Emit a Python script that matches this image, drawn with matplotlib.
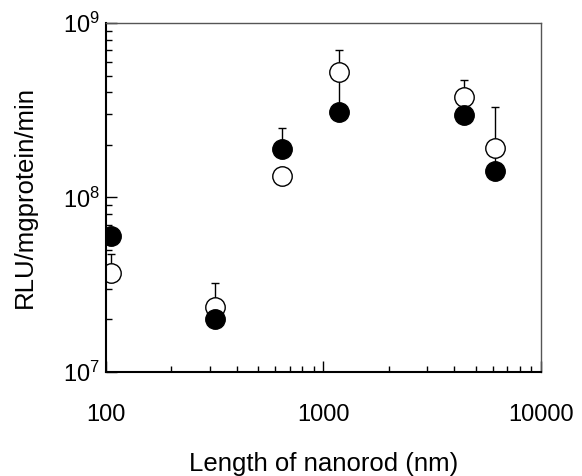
import numpy as np
import matplotlib
matplotlib.use("Agg")
import matplotlib.pyplot as plt
from matplotlib.ticker import LogLocator, NullFormatter

plt.rcParams['font.family'] = ['Liberation Sans', 'DejaVu Sans']
plt.rcParams['mathtext.fontset'] = 'custom'
plt.rcParams['mathtext.rm'] = 'Liberation Sans'
plt.rcParams['mathtext.it'] = 'Liberation Sans'

# rod length (nm)
length_nm = [105, 317, 643, 1178, 4425, 6150]
# filled circles
filled_val = [6.04e7, 2.02e7, 1.90e8, 3.08e8, 2.96e8, 1.42e8]
filled_err = [0, 0, 0.60e8, 2.0e8, 0, 0.45e8]
# open circles
open_val = [3.68e7, 2.37e7, 1.33e8, 5.26e8, 3.75e8, 1.92e8]
open_err = [1.05e7, 0.85e7, 0, 1.77e8, 0.94e8, 1.38e8]

fig = plt.figure(figsize=(5.82, 4.76), dpi=100)
ax = fig.add_axes([0.182, 0.2185, 0.7476, 0.7332])

x = np.array(length_nm)
zeros = np.zeros(len(x))
ax.errorbar(x, open_val, yerr=[zeros, open_err], fmt='none', ecolor='black',
            elinewidth=1, capsize=3, capthick=1, zorder=1)
ax.errorbar(x, filled_val, yerr=[zeros, filled_err], fmt='none', ecolor='black',
            elinewidth=1, capsize=3, capthick=1, zorder=1)
ax.plot(x, open_val, 'o', ms=14, mfc='white', mec='black', mew=1, zorder=2)
ax.plot(x, filled_val, 'o', ms=14, mfc='black', mec='black', mew=1, zorder=3)

ax.set_xscale('log')
ax.set_yscale('log')
ax.set_xlim(100, 10000)
ax.set_ylim(1e7, 1e9)

ax.xaxis.set_minor_locator(LogLocator(base=10, subs=np.arange(2, 10)))
ax.xaxis.set_minor_formatter(NullFormatter())
ax.set_xticks([100, 1000, 10000])
ax.set_xticklabels(['100', '1000', '10000'])
ax.yaxis.set_minor_locator(LogLocator(base=10, subs=np.arange(2, 10)))
ax.yaxis.set_minor_formatter(NullFormatter())
ax.set_yticks([1e7, 1e8, 1e9])
ax.set_yticklabels([r'$\mathregular{10^7}$', r'$\mathregular{10^8}$', r'$\mathregular{10^9}$'])

ax.tick_params(which='major', direction='in', length=8, width=1,
               top=False, right=False)
ax.tick_params(which='minor', direction='in', length=4, width=1, top=False, right=False)
ax.tick_params(axis='x', which='major', pad=23, labelsize=17)
ax.tick_params(axis='y', which='major', pad=4, labelsize=17)

for s in ['left', 'bottom']:
    ax.spines[s].set_linewidth(1.5)
    ax.spines[s].set_color('black')
for s in ['top', 'right']:
    ax.spines[s].set_linewidth(1)
    ax.spines[s].set_color('#555555')

ax.set_xlabel('Length of nanorod (nm)', fontsize=18.5, labelpad=19)
ax.set_ylabel('RLU/mgprotein/min', fontsize=18.5, labelpad=19)

fig.savefig('out.png', dpi=100)
